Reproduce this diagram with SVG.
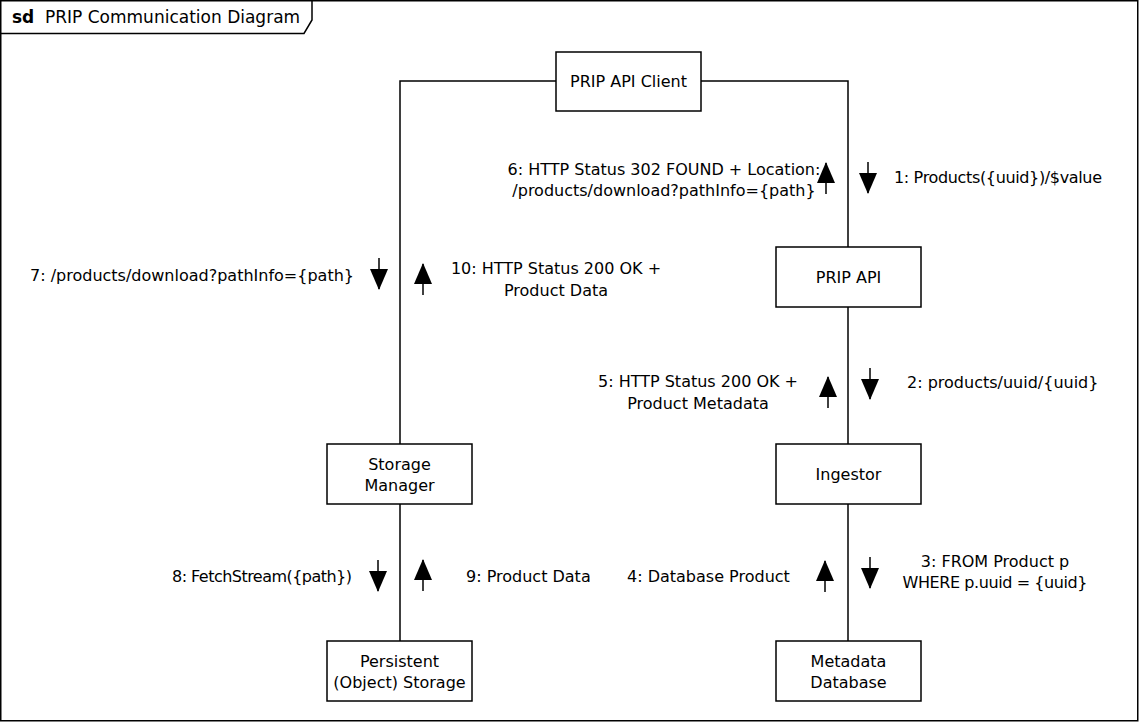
<svg xmlns="http://www.w3.org/2000/svg" width="1139" height="722" viewBox="0 0 1139 722">
<style>
text{font-family:"DejaVu Sans","Liberation Sans",sans-serif;font-size:16px;fill:#000}
.c{text-anchor:middle}
.e{text-anchor:end}
.t{font-size:17px}
.box{fill:#fff;stroke:#000;stroke-width:1.5}
.ln{fill:none;stroke:#000;stroke-width:1.5}
.ar line{stroke:#000;stroke-width:1.5}
.ar polygon{fill:#000}
</style>
<defs>
<g id="down" class="ar"><line x1="0" y1="0" x2="0" y2="31"/><polygon points="-9,11 9,11 0,32"/></g>
<g id="up" class="ar"><line x1="0" y1="1" x2="0" y2="32"/><polygon points="0,0 -9,21 9,21"/></g>
</defs>
<rect x="0" y="0" width="1139" height="722" fill="#fff"/>
<g id="frame">
<rect x="0.75" y="0.75" width="1137" height="720" fill="none" stroke="#000" stroke-width="1.5"/>
<path d="M0.75,33.5 H304 L312,20 V0.75" fill="none" stroke="#000" stroke-width="1.5"/>
<text class="t" x="12" y="23" font-weight="bold">sd</text>
<text class="t" x="45" y="23">PRIP Communication Diagram</text>
</g>
<g id="connectors">
<polyline class="ln" points="556,81 400,81 400,444"/>
<polyline class="ln" points="701,81 848,81 848,247"/>
<line class="ln" x1="848" y1="307" x2="848" y2="444"/>
<line class="ln" x1="848" y1="504" x2="848" y2="641"/>
<line class="ln" x1="400" y1="504" x2="400" y2="641"/>
</g>
<g id="messages">
<use href="#down" x="868" y="162"/>
<use href="#up" x="826" y="162"/>
<use href="#down" x="379" y="258"/>
<use href="#up" x="423" y="263"/>
<use href="#down" x="870" y="368"/>
<use href="#up" x="828" y="376"/>
<use href="#down" x="870" y="557"/>
<use href="#up" x="825" y="560"/>
<use href="#down" x="378" y="560"/>
<use href="#up" x="423" y="559"/>
<text class="c" x="664" y="175">6: HTTP Status 302 FOUND + Location:</text>
<text class="c" x="664" y="196">/products/download?pathInfo={path}</text>
<text x="894" y="183" textLength="208" lengthAdjust="spacing">1: Products({uuid})/$value</text>
<text x="30" y="281">7: /products/download?pathInfo={path}</text>
<text class="c" x="556" y="274">10: HTTP Status 200 OK +</text>
<text class="c" x="556" y="296">Product Data</text>
<text class="c" x="698" y="387">5: HTTP Status 200 OK +</text>
<text class="c" x="698" y="409">Product Metadata</text>
<text x="907" y="388">2: products/uuid/{uuid}</text>
<text class="e" x="352" y="582" textLength="180" lengthAdjust="spacing">8: FetchStream({path})</text>
<text x="466" y="582">9: Product Data</text>
<text x="627" y="582">4: Database Product</text>
<text class="c" x="995" y="567">3: FROM Product p</text>
<text class="c" x="995" y="588" textLength="185" lengthAdjust="spacing">WHERE p.uuid = {uuid}</text>
</g>
<g id="client"><rect class="box" x="556" y="52" width="145" height="59"/><text class="c" x="628.5" y="87">PRIP API Client</text></g>
<g id="api"><rect class="box" x="776" y="247" width="145" height="60"/><text class="c" x="848.5" y="283">PRIP API</text></g>
<g id="storageManager"><rect class="box" x="327" y="444" width="145" height="60"/><text class="c" x="399.5" y="470">Storage</text><text class="c" x="399.5" y="491">Manager</text></g>
<g id="ingestor"><rect class="box" x="776" y="444" width="145" height="60"/><text class="c" x="848.5" y="480">Ingestor</text></g>
<g id="objectStorage"><rect class="box" x="327" y="641" width="145" height="60"/><text class="c" x="399.5" y="667">Persistent</text><text class="c" x="399.5" y="688">(Object) Storage</text></g>
<g id="metadataDb"><rect class="box" x="776" y="641" width="145" height="60"/><text class="c" x="848.5" y="667">Metadata</text><text class="c" x="848.5" y="688">Database</text></g>
</svg>
